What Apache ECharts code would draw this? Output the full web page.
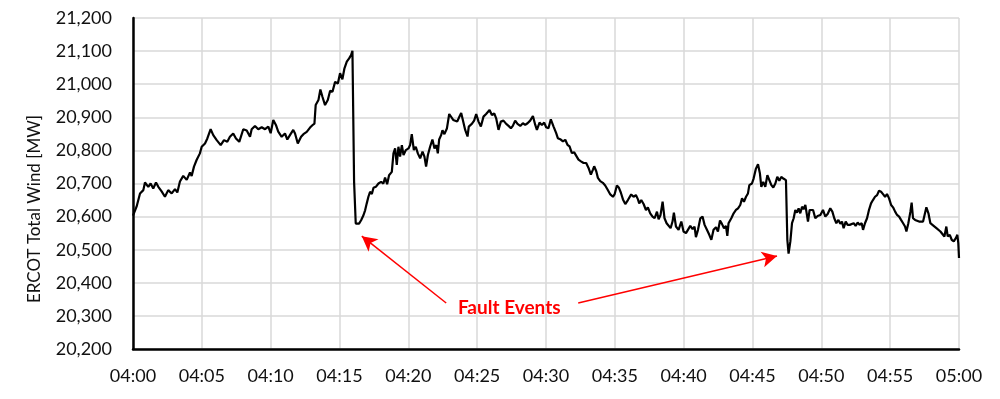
<!DOCTYPE html>
<html><head><meta charset="utf-8">
<script src="https://cdn.jsdelivr.net/npm/echarts@6/dist/echarts.min.js"></script>
<style>html,body{margin:0;padding:0;background:#fff}#c{width:1000px;height:399px}</style>
</head><body><div id="c"></div>
<script>
// minutes after 04:00
const minutes = [
0.00,0.26,0.51,0.75,0.87,1.11,1.28,1.47,1.67,1.84,2.08,2.32,2.56,2.81,3.05,3.22,3.41,3.65,3.90,4.14,4.26,4.43,4.62,4.86,4.99,5.23,5.40,5.64,5.83,6.08,6.37,6.61,6.85,7.04,7.28,7.48,7.72,8.01,8.26,8.50,8.62,8.86,9.10,9.35,9.59,9.83,10.00,10.19,10.38,10.55,10.80,11.04,11.21,11.40,11.64,
11.77,11.97,12.06,12.21,12.38,12.62,12.86,13.03,13.18,13.27,13.47,13.61,13.76,13.95,14.15,14.32,14.49,14.68,14.88,15.04,15.21,15.36,15.53,15.70,15.84,15.94,16.01,16.06,16.12,16.18,16.25,16.42,16.57,16.74,16.86,16.98,17.10,17.22,17.35,17.47,17.64,17.83,18.02,18.19,18.31,18.46,18.60,18.80,18.92,19.04,19.16,19.28,19.40,19.53,19.65,19.82,20.01,20.13,20.25,20.40,20.54,20.69,20.86,21.03,21.17,21.29,21.42,21.58,21.75,21.90,22.04,22.14,22.24,22.38,22.48,22.62,22.80,22.97,23.11,23.26,23.40,23.55,23.69,23.84,
23.96,24.13,24.30,24.39,24.61,24.78,24.93,25.10,25.27,25.46,25.65,25.90,26.07,26.24,26.38,26.55,26.72,26.91,27.11,27.28,27.45,27.59,27.76,27.93,28.13,28.32,28.49,28.66,28.85,29.05,29.22,29.34,29.53,29.70,29.87,30.01,30.18,30.35,30.55,30.74,30.86,31.03,31.23,31.40,31.56,31.71,31.88,32.05,32.19,32.36,32.54,32.73,32.92,33.09,33.26,33.41,33.50,33.65,33.77,33.94,34.13,34.30,34.47,34.67,34.86,34.98,35.15,35.30,35.44,35.59,
35.76,35.95,36.19,36.36,36.53,36.68,36.77,36.92,37.09,37.26,37.40,37.57,37.74,37.89,38.06,38.18,38.32,38.47,38.61,38.76,38.90,39.05,39.19,39.29,39.44,39.63,39.83,39.99,40.17,40.31,40.48,40.65,40.79,40.89,41.04,41.21,41.37,41.52,41.69,41.86,42.01,42.17,42.35,42.49,42.64,42.78,42.93,43.07,43.17,43.26,43.46,43.63,43.80,43.95,44.11,44.24,44.38,44.53,44.67,44.77,44.96,45.08,45.25,45.40,45.54,45.64,45.78,45.93,46.08,46.22,46.37,46.51,46.66,46.80,46.95,47.09,47.24,47.33,47.43,47.53,47.62,
47.75,47.87,47.99,48.11,48.23,48.35,48.47,48.60,48.71,48.84,48.96,49.03,49.15,49.25,49.40,49.56,49.73,49.93,50.12,50.29,50.46,50.65,50.80,50.94,51.09,51.24,51.38,51.50,51.62,51.77,51.91,52.06,52.20,52.35,52.49,52.64,52.78,52.93,53.03,53.17,53.32,53.46,53.61,53.75,53.90,54.05,54.19,54.34,54.48,54.63,54.77,54.92,55.07,55.21,55.36,55.50,55.65,55.79,55.94,56.08,56.18,56.32,56.47,56.56,56.66,56.81,56.95,57.10,57.24,57.39,57.53,57.63,57.78,57.92,58.07,58.21,58.36,58.50,58.65,58.79,58.94,59.08,59.18,59.33,59.47,59.62,59.77,59.88,59.95,60.00
];
// ERCOT total wind output, MW
const windMW = [
20603,20630,20670,20680,20703,20690,20700,20685,20703,20690,20676,20660,20680,20670,20683,20673,20706,20723,20711,20733,20723,20751,20771,20791,20811,20821,20836,20864,20846,20831,20816,20831,20826,20841,20851,20836,20826,20864,20860,20841,20864,20874,20864,20870,20864,20872,20852,20892,20877,20857,20841,20851,20833,20846,20862,
20851,20821,20816,20841,20849,20856,20869,20876,20881,20937,20952,20984,20962,20937,20952,20980,20977,21007,21002,21033,21015,21048,21068,21078,21088,21101,21100,20705,20700,20579,20577,20579,20589,20604,20619,20640,20660,20675,20668,20687,20690,20700,20705,20700,20718,20698,20725,20735,20791,20806,20756,20811,20781,20816,20786,20801,20806,20816,20849,20801,20811,20791,20776,20796,20781,20751,20786,20811,20833,20806,20816,20791,20833,20846,20861,20849,20866,20910,20904,20892,20897,20887,20900,20913,
20892,20862,20842,20872,20880,20890,20910,20887,20872,20902,20910,20922,20907,20912,20897,20862,20887,20890,20880,20874,20867,20874,20890,20880,20874,20882,20877,20882,20890,20904,20877,20862,20884,20877,20884,20870,20867,20894,20872,20852,20837,20834,20827,20832,20817,20812,20792,20794,20792,20772,20767,20762,20762,20747,20727,20742,20752,20737,20717,20707,20702,20694,20682,20667,20660,20667,20694,20687,20672,20652,
20638,20650,20667,20660,20665,20652,20640,20650,20638,20620,20628,20610,20600,20595,20615,20592,20605,20645,20595,20580,20575,20565,20585,20612,20570,20560,20585,20555,20550,20560,20572,20562,20570,20538,20560,20595,20600,20575,20560,20545,20530,20560,20568,20555,20588,20578,20565,20572,20542,20580,20595,20610,20620,20625,20635,20655,20645,20660,20670,20695,20700,20715,20745,20758,20730,20690,20705,20690,20725,20720,20695,20688,20700,20720,20708,20720,20715,20710,20710,20530,20488,
20525,20580,20595,20620,20612,20625,20610,20630,20622,20635,20635,20585,20620,20615,20620,20595,20602,20605,20620,20600,20608,20625,20615,20595,20580,20590,20578,20585,20565,20585,20575,20575,20570,20580,20572,20582,20575,20580,20560,20580,20595,20620,20640,20650,20660,20665,20678,20675,20668,20660,20668,20655,20635,20628,20615,20605,20600,20590,20580,20570,20555,20580,20615,20642,20595,20590,20592,20585,20590,20585,20590,20628,20610,20580,20575,20572,20565,20560,20555,20550,20540,20570,20540,20545,20530,20525,20535,20545,20520,20475
];
const xTickLabels = ['04:00','04:05','04:10','04:15','04:20','04:25','04:30','04:35','04:40','04:45','04:50','04:55','05:00'];
const yAxisTitle = 'ERCOT Total Wind [MW]';
const faultLabel = 'Fault Events';
const faultLabelAt = [27.33, 20324];
const faultArrowTails = [[22.75, 20339], [32.34, 20339]];
const faultArrowHeads = [[16.62, 20541], [46.78, 20481]];

const chart = echarts.init(document.getElementById('c'), null, {renderer: 'canvas'});
const font = 'Lato, "Open Sans", sans-serif';
chart.setOption({
  animation: false,
  grid: {left: 133, right: 41, top: 18, bottom: 50, containLabel: false},
  xAxis: {
    type: 'value', min: 0, max: 60, interval: 5,
    axisLine: {show: true, onZero: false, lineStyle: {color: '#000', width: 2.5}},
    axisTick: {show: false},
    splitLine: {show: true, lineStyle: {color: '#d9d9d9', width: 1.5}},
    axisLabel: {color: '#111', fontSize: 18, fontFamily: font, margin: 18,
      formatter: v => xTickLabels[Math.round(v / 5)] || ''}
  },
  yAxis: {
    type: 'value', min: 20200, max: 21200, interval: 100,
    axisLine: {show: true, onZero: false, lineStyle: {color: '#000', width: 2.5}},
    axisTick: {show: false},
    splitLine: {show: true, lineStyle: {color: '#d9d9d9', width: 1.5}},
    axisLabel: {color: '#111', fontSize: 18, fontFamily: font, margin: 21,
      formatter: v => v.toLocaleString('en-US')}
  },
  graphic: [{
    type: 'text', x: 35, y: 209, rotation: Math.PI / 2,
    style: {text: yAxisTitle, fill: '#111', font: '17px ' + font, textAlign: 'center', textVerticalAlign: 'middle'}
  }],
  series: [{
    type: 'line',
    data: minutes.map((m, i) => [m, windMW[i]]),
    showSymbol: false,
    lineStyle: {color: '#000', width: 2.2},
    z: 3,
    markLine: {
      silent: true,
      symbol: ['none', 'arrow'],
      symbolSize: [12, 15],
      lineStyle: {color: '#ff0000', width: 1.5, type: 'solid'},
      label: {show: false},
      data: faultArrowTails.map((t, i) => [{coord: t}, {coord: faultArrowHeads[i]}])
    },
    markPoint: {
      silent: true,
      symbol: 'circle', symbolSize: 1,
      itemStyle: {color: 'rgba(0,0,0,0)'},
      label: {show: true, position: 'inside', formatter: faultLabel, color: '#ff0000',
        fontSize: 19, fontWeight: 'bold', fontFamily: font},
      data: [{coord: faultLabelAt}]
    }
  }]
});
</script></body></html>
